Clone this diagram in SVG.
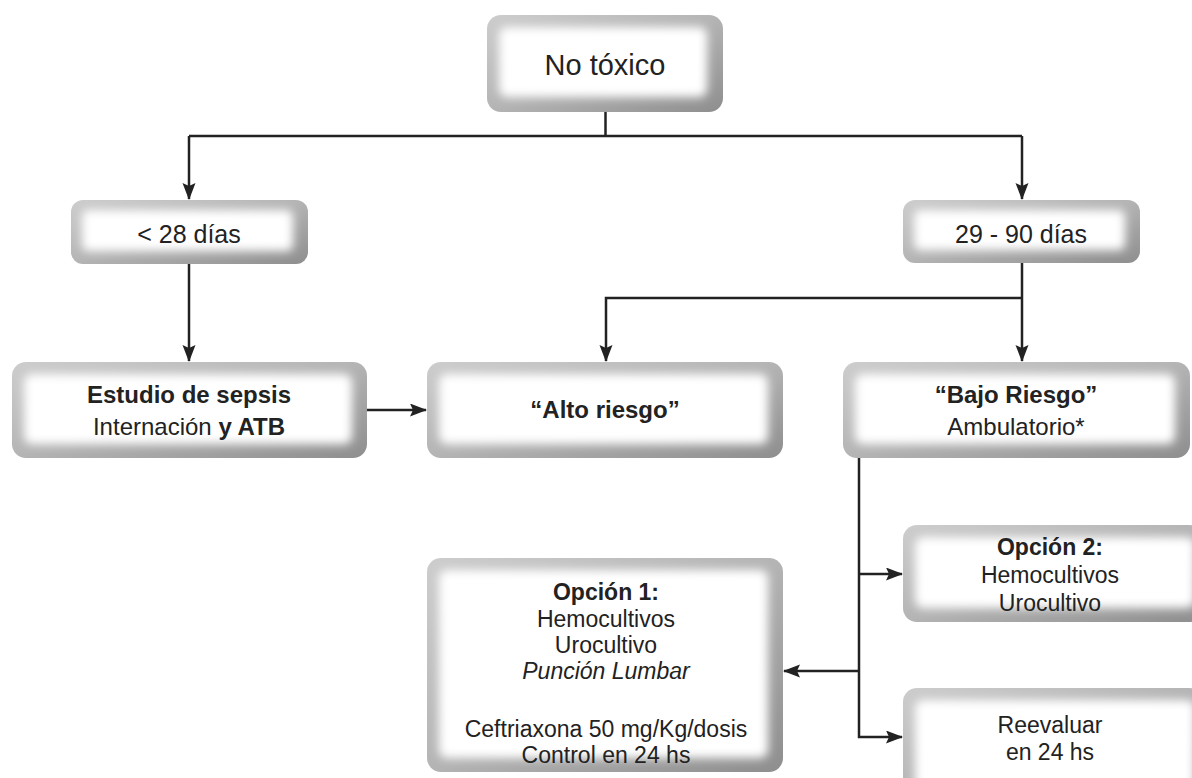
<svg xmlns="http://www.w3.org/2000/svg" width="1192" height="778" viewBox="0 0 1192 778">
<defs>
<linearGradient id="edge" x1="0" y1="0" x2="1" y2="1">
<stop offset="0" stop-color="#cdcdcd"/>
<stop offset="0.5" stop-color="#b4b4b4"/>
<stop offset="1" stop-color="#8e8e8e"/>
</linearGradient>
<filter id="soft" x="-10%" y="-20%" width="120%" height="140%">
<feGaussianBlur stdDeviation="5"/>
</filter>
<marker id="arr" markerUnits="userSpaceOnUse" markerWidth="18" markerHeight="14" refX="16" refY="6.5" orient="auto">
<path d="M0,0 L17,6.5 L0,13 L3,6.5 z" fill="#222"/>
</marker>
</defs>
<style>
.edge{fill:url(#edge)}
.glow{fill:#fff;filter:url(#soft)}
text{font-family:"Liberation Sans",Arial,sans-serif;fill:#222;text-anchor:middle}
.b{font-weight:bold}
.i{font-style:italic}
.c path{fill:none;stroke:#222;stroke-width:2.5}
.c .a{marker-end:url(#arr)}
</style>
<rect width="1192" height="778" fill="#fff"/>

<g id="no-toxico">
<rect class="edge" x="487" y="15" width="236" height="97" rx="14"/>
<rect class="glow" x="499" y="27" width="208" height="70" rx="8"/>
<text x="605" y="75" font-size="29">No tóxico</text>
</g>

<g id="menor28">
<rect class="edge" x="71" y="200" width="237" height="64" rx="12"/>
<rect class="glow" x="82" y="210" width="211" height="41" rx="6"/>
<text x="189" y="243" font-size="25">&lt; 28 días</text>
</g>

<g id="d29-90">
<rect class="edge" x="903" y="200" width="237" height="63" rx="12"/>
<rect class="glow" x="914" y="210" width="211" height="40" rx="6"/>
<text x="1021" y="243" font-size="25">29 - 90 días</text>
</g>

<g id="estudio">
<rect class="edge" x="12" y="362" width="355" height="96" rx="14"/>
<rect class="glow" x="24" y="374" width="328" height="70" rx="8"/>
<text x="189" y="403" font-size="24" class="b">Estudio de sepsis</text>
<text x="189" y="435" font-size="24">Internación <tspan class="b">y ATB</tspan></text>
</g>

<g id="alto">
<rect class="edge" x="427" y="362" width="356" height="96" rx="14"/>
<rect class="glow" x="439" y="374" width="329" height="70" rx="8"/>
<text x="605" y="418" font-size="24" class="b">“Alto riesgo”</text>
</g>

<g id="bajo">
<rect class="edge" x="843" y="362" width="347" height="96" rx="14"/>
<rect class="glow" x="855" y="374" width="320" height="70" rx="8"/>
<text x="1016" y="403" font-size="24" class="b">“Bajo Riesgo”</text>
<text x="1016" y="435" font-size="24">Ambulatorio*</text>
</g>

<g id="opcion1">
<rect class="edge" x="427" y="558" width="356" height="214" rx="14"/>
<rect class="glow" x="439" y="570" width="329" height="188" rx="8"/>
<text x="606" y="600" font-size="23" class="b">Opción 1:</text>
<text x="606" y="627" font-size="23">Hemocultivos</text>
<text x="606" y="653" font-size="23">Urocultivo</text>
<text x="606" y="679" font-size="23" class="i">Punción Lumbar</text>
<text x="606" y="737" font-size="23">Ceftriaxona 50 mg/Kg/dosis</text>
<text x="606" y="763" font-size="23">Control en 24 hs</text>
</g>

<g id="opcion2">
<rect class="edge" x="903" y="525" width="300" height="97" rx="14"/>
<rect class="glow" x="915" y="537" width="280" height="71" rx="8"/>
<text x="1050" y="555" font-size="23" class="b">Opción 2:</text>
<text x="1050" y="583" font-size="23">Hemocultivos</text>
<text x="1050" y="611" font-size="23">Urocultivo</text>
</g>

<g id="reevaluar">
<rect class="edge" x="903" y="688" width="300" height="110" rx="14"/>
<rect class="glow" x="915" y="700" width="280" height="90" rx="8"/>
<text x="1050" y="733" font-size="23">Reevaluar</text>
<text x="1050" y="760" font-size="23">en 24 hs</text>
</g>

<g id="connectors" class="c">
<path d="M605.5 112 V136"/>
<path d="M189 136 H1022"/>
<path class="a" d="M189 136 V199"/>
<path class="a" d="M1022 136 V199"/>
<path class="a" d="M189 264 V361"/>
<path class="a" d="M1022 263 V361"/>
<path class="a" d="M1022 298 H606 V361"/>
<path class="a" d="M367 410 H426"/>
<path class="a" d="M859 458 V737 H902"/>
<path class="a" d="M859 574 H902"/>
<path class="a" d="M859 671 H784"/>
</g>
</svg>
